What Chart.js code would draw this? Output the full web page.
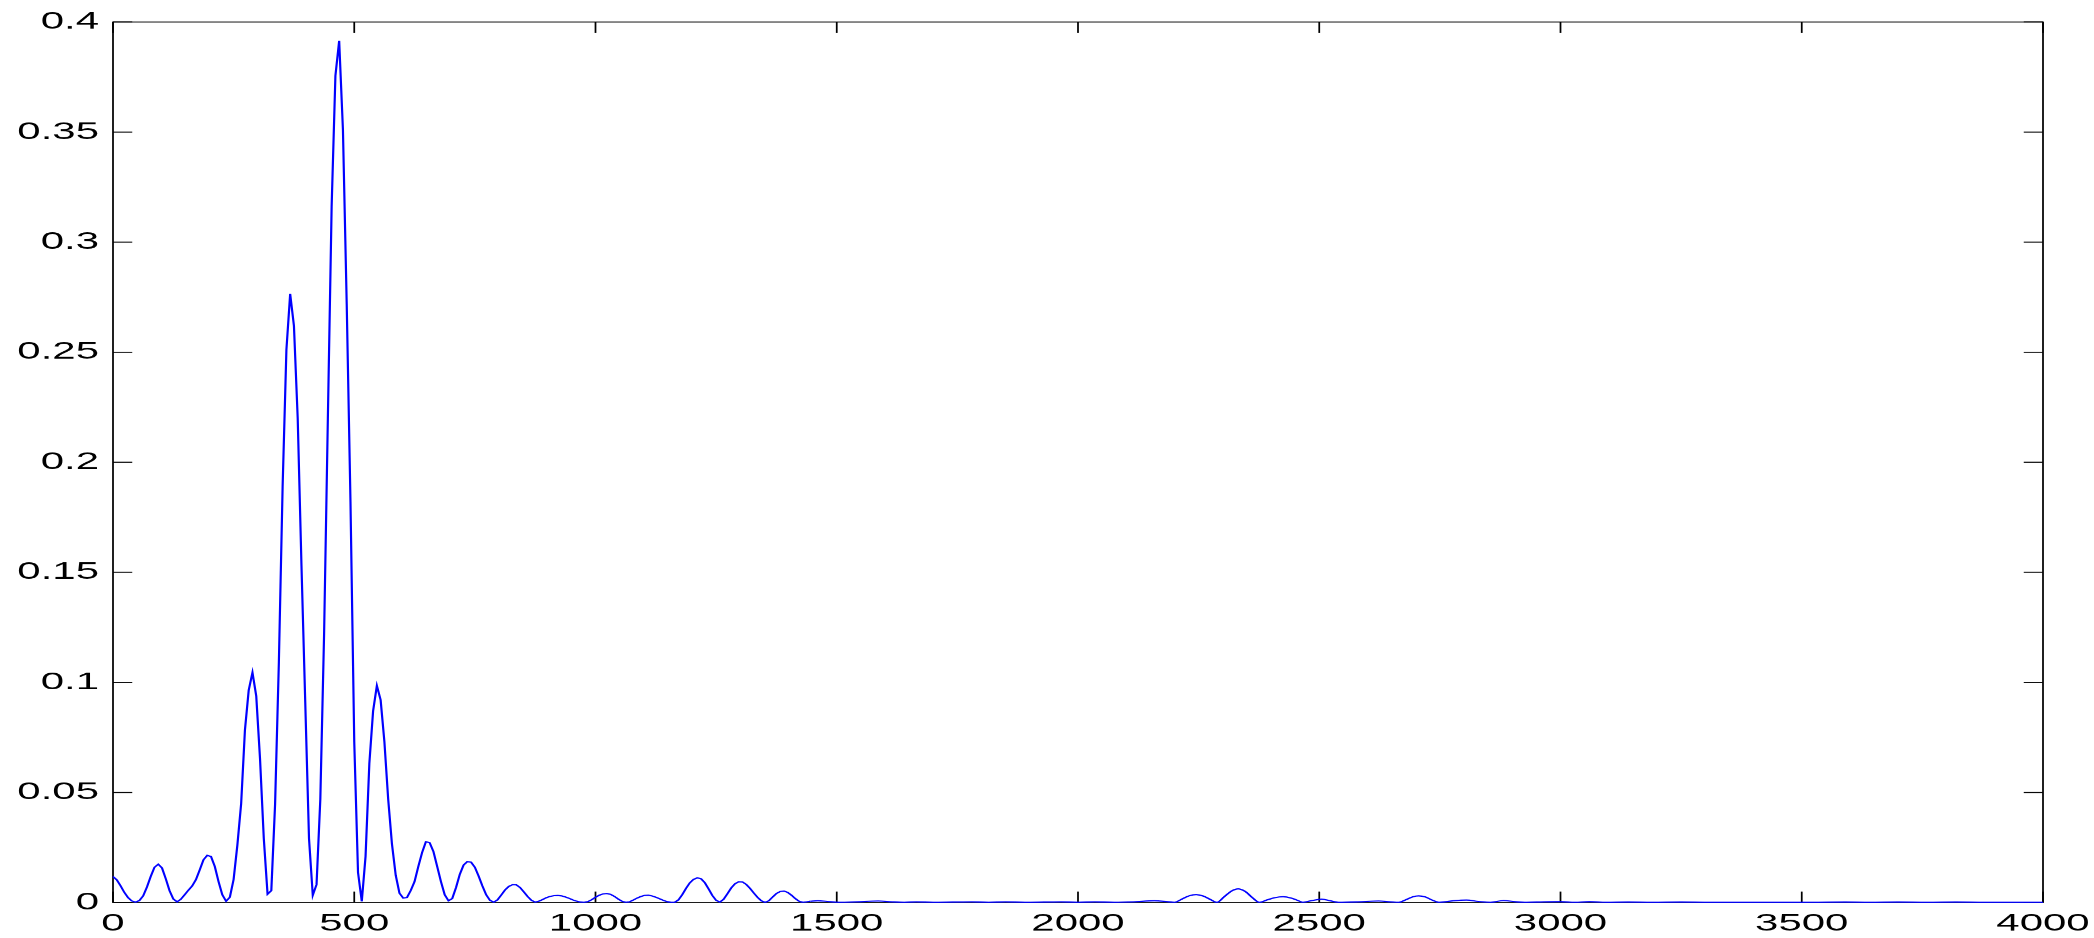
<!DOCTYPE html>
<html><head><meta charset="utf-8">
<script src="https://cdn.jsdelivr.net/npm/chart.js@4/dist/chart.umd.min.js"></script>
<style>
html,body{margin:0;padding:0;background:#fff;overflow:hidden;width:2094px;height:938px}
#wrap{position:absolute;left:0;top:0;width:1197px;height:938px;transform-origin:0 0;}
canvas{display:block}
</style></head><body>
<div id="wrap"><canvas id="c" width="1197" height="938"></canvas></div>
<script>
const freqDense = [0,7.81,15.63,23.44,31.25,39.06,46.88,54.69,62.5,70.31,78.13,85.94,93.75,101.56,109.38,117.19,125,132.81,140.63,148.44,
156.25,164.06,171.88,179.69,187.5,195.31,203.13,210.94,218.75,226.56,234.38,242.19,250,257.81,265.63,273.44,281.25,289.06,296.88,304.69,
312.5,320.31,328.13,335.94,343.75,351.56,359.38,367.19,375,382.81,390.63,398.44,406.25,414.06,421.88,429.69,437.5,445.31,453.13,460.94,
468.75,476.56,484.38,492.19,500,507.81,515.63,523.44,531.25,539.06,546.88,554.69,562.5,570.31,578.13,585.94,593.75,601.56,609.38,617.19,
625,632.81,640.63,648.44,656.25,664.06,671.88,679.69,687.5,695.31,703.13,710.94,718.75,726.56,734.38,742.19,750,757.81,765.63,773.44,
781.25,789.06,796.88,804.69,812.5,820.31,828.13,835.94,843.75,851.56,859.38,867.19,875,882.81,890.63,898.44,906.25,914.06,921.88,929.69,
937.5,945.31,953.13,960.94,968.75,976.56,984.38,992.19,1000,1007.81,1015.63,1023.44,1031.25,1039.06,1046.88,1054.69,1062.5,1070.31,1078.13,1085.94,
1093.75,1101.56,1109.38,1117.19,1125,1132.81,1140.63,1148.44,1156.25,1164.06,1171.88,1179.69,1187.5,1195.31,1203.13,1210.94,1218.75,1226.56,1234.38,1242.19,
1250,1257.81,1265.63,1273.44,1281.25,1289.06,1296.88,1304.69,1312.5,1320.31,1328.13,1335.94,1343.75,1351.56,1359.38,1367.19,1375,1382.81,1390.63,1398.44,
1406.25,1414.06,1421.88,1429.69,1437.5,1445.31];
const magDense = [0.0118,0.0103,0.0076,0.0046,0.0022,0.0007,0.0002,0.0009,0.0030,0.0070,0.0118,0.0160,0.0174,0.0157,0.0108,0.0054,0.0016,0.0003,0.0015,0.0035,
0.0056,0.0075,0.0104,0.0148,0.0194,0.0214,0.0209,0.0164,0.0095,0.0035,0.0006,0.0024,0.0105,0.0262,0.0450,0.0783,0.0964,0.1045,0.0938,0.0654,
0.0292,0.0038,0.0054,0.0447,0.109,0.189,0.251,0.2765,0.262,0.220,0.153,0.091,0.029,0.0033,0.0082,0.047,0.122,0.220,0.316,0.3755,
0.3915,0.351,0.272,0.182,0.073,0.0137,0.0005,0.021,0.063,0.087,0.0985,0.092,0.073,0.047,0.0266,0.0124,0.0042,0.0020,0.0023,0.0055,
0.0095,0.0164,0.0227,0.0276,0.0272,0.0232,0.0164,0.0095,0.0035,0.0008,0.0018,0.0068,0.0128,0.0170,0.0186,0.0183,0.0160,0.0120,0.0075,0.0035,
0.0010,0.0002,0.0012,0.0034,0.0057,0.0073,0.0081,0.0080,0.0068,0.0048,0.0027,0.0010,0.0002,0.0006,0.0014,0.0022,0.0028,0.0031,0.0032,0.0030,
0.0025,0.0019,0.0012,0.0006,0.0002,0.0001,0.0004,0.0013,0.0024,0.0033,0.0039,0.0041,0.0037,0.0028,0.0016,0.0006,0.0001,0.0003,0.0011,0.0020,
0.0027,0.0032,0.0033,0.0030,0.0024,0.0017,0.0010,0.0004,0.0001,0.0001,0.0012,0.0035,0.0064,0.0089,0.0105,0.0112,0.0108,0.0090,0.0062,0.0032,
0.0010,0.0002,0.0015,0.0040,0.0066,0.0085,0.0094,0.0093,0.0082,0.0064,0.0043,0.0023,0.0008,0.0001,0.0008,0.0025,0.0041,0.0050,0.0052,0.0046,
0.0033,0.0018,0.0006,0.0001,0.0003,0.0006];
// High-frequency tail: extrema and shoulders
const freqTail = [1445.31,1461,1480,1505,1540,1586,1615,1640,1665,1700,1740,1780,1815,1850,1890,1930,1965,2000,2035,2075,
2115,2158,2185,2200,2215,2230,2245,2260,2275,2288,2303,2318,2332,2346,2361,2376,2392,2408,2425,2442,
2455,2466,2485,2505,2523,2540,2580,2623,2648,2665,2680,2694,2706,2720,2734,2748,2778,2805,2830,2855,
2882,2905,2930,2965,3000,3030,3060,3095,3140,3190,3250,3310,3370,3440,3520,3590,3640,3700,3760,3820,
3880,3940,4000];
const magTail = [0.0006,0.0008,0.0005,0.0001,0.0003,0.0007,0.0003,0.0001,0.0003,0.0001,0.0002,0.0003,0.0001,0.0003,0.0001,0.0002,0.0003,0.0001,0.0003,0.0001,
0.0003,0.0008,0.0004,0.0001,0.0015,0.0030,0.0036,0.0029,0.0013,0.0001,0.0026,0.0052,0.0062,0.0051,0.0023,0.0001,0.0012,0.0022,0.0026,0.0020,
0.0010,0.0001,0.0009,0.0015,0.0008,0.0001,0.0003,0.0007,0.0003,0.0001,0.0013,0.0026,0.0030,0.0025,0.0011,0.0001,0.0008,0.0011,0.0005,0.0001,
0.0009,0.0004,0.0001,0.0003,0.0004,0.0001,0.0004,0.0001,0.0002,0.0001,0.0002,0.0001,0.0001,0.0001,0.0001,0.0002,0.0001,0.0002,0.0001,0.0002,
0.0001,0.0001,0.0001];

const xTickValues = [0,500,1000,1500,2000,2500,3000,3500,4000];
const xTickLabels = ['0','500','1000','1500','2000','2500','3000','3500','4000'];
const yTickValues = [0,0.05,0.1,0.15,0.2,0.25,0.3,0.35,0.4];
const yTickLabels = ['0','0.05','0.1','0.15','0.2','0.25','0.3','0.35','0.4'];

const PAGE_W = 2094, PAGE_H = 938, CSS_W = 1197;
const STRETCH = PAGE_W / CSS_W;
document.getElementById('wrap').style.transform = 'scaleX(' + STRETCH + ')';

const PLOT_LEFT = 113 / STRETCH, PLOT_RIGHT = 2043 / STRETCH, PLOT_TOP = 22, PLOT_BOTTOM = 902;
const TICK_LEN = 11;
const FONT = {family: "'Liberation Sans', Arial, Helvetica, sans-serif", size: 24};

const frame = {
  id: 'frame',
  beforeDatasetsDraw(chart) {
    const {ctx, chartArea: a, scales: {x, y}} = chart;
    ctx.save();
    ctx.strokeStyle = '#000';
    ctx.lineWidth = 1;
    ctx.strokeRect(a.left, a.top, a.right - a.left, a.bottom - a.top);
    ctx.beginPath();
    xTickValues.forEach(v => {
      const px = x.getPixelForValue(v);
      ctx.moveTo(px, a.bottom); ctx.lineTo(px, a.bottom - TICK_LEN);
      ctx.moveTo(px, a.top); ctx.lineTo(px, a.top + TICK_LEN);
    });
    yTickValues.forEach(v => {
      const py = y.getPixelForValue(v);
      ctx.moveTo(a.left, py); ctx.lineTo(a.left + TICK_LEN, py);
      ctx.moveTo(a.right, py); ctx.lineTo(a.right - TICK_LEN, py);
    });
    ctx.stroke();
    ctx.restore();
  }
};

new Chart(document.getElementById('c'), {
  type: 'line',
  data: {
    datasets: [
      {data: freqDense.map((f, i) => ({x: f, y: magDense[i]})), borderColor: '#0000ff', borderWidth: 1.25,
       pointRadius: 0, tension: 0, clip: false, fill: false},
      {data: freqTail.map((f, i) => ({x: f, y: magTail[i]})), borderColor: '#0000ff', borderWidth: 1.25,
       pointRadius: 0, cubicInterpolationMode: 'monotone', clip: false, fill: false}
    ]
  },
  options: {
    responsive: false,
    devicePixelRatio: STRETCH,
    animation: false,
    events: [],
    layout: {padding: {left: 0, top: PLOT_TOP, right: CSS_W - PLOT_RIGHT, bottom: 0}},
    plugins: {legend: {display: false}, tooltip: {enabled: false}},
    scales: {
      x: {
        type: 'linear', min: 0, max: 4000,
        afterBuildTicks: s => { s.ticks = xTickValues.map(v => ({value: v})); },
        afterFit: s => { s.height = PAGE_H - PLOT_BOTTOM; s.paddingLeft = 0; s.paddingRight = 0; },
        grid: {display: false, drawTicks: false},
        border: {display: false},
        ticks: {font: FONT, color: '#000', padding: 7, maxRotation: 0, autoSkip: false,
                callback: v => xTickLabels[xTickValues.indexOf(v)]}
      },
      y: {
        type: 'linear', min: 0, max: 0.4,
        afterBuildTicks: s => { s.ticks = yTickValues.map(v => ({value: v})); },
        afterFit: s => { s.width = PLOT_LEFT; s.paddingTop = 0; s.paddingBottom = 0; },
        grid: {display: false, drawTicks: false},
        border: {display: false},
        ticks: {font: FONT, color: '#000', padding: 8, autoSkip: false,
                callback: v => yTickLabels[yTickValues.indexOf(v)]}
      }
    }
  },
  plugins: [frame]
});
</script>
</body></html>
